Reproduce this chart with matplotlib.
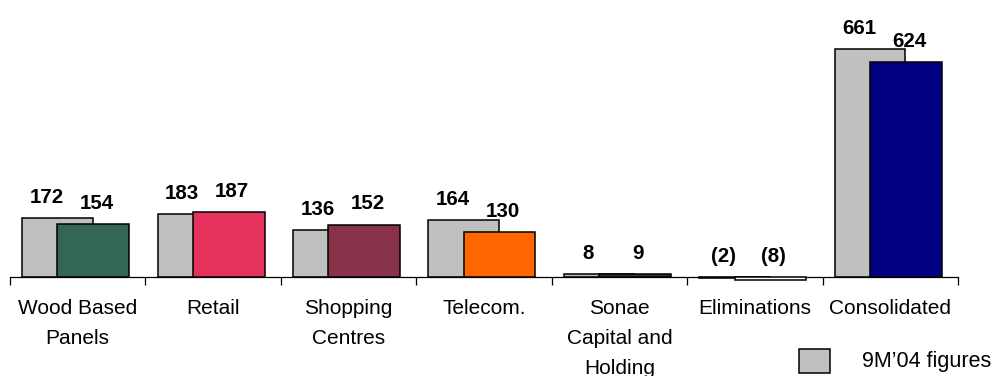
import numpy as np
import matplotlib
matplotlib.use('Agg')
import matplotlib.pyplot as plt
from matplotlib.patches import Rectangle

plt.rcParams['font.family'] = ['Liberation Sans', 'DejaVu Sans']

categories = ['Wood Based\nPanels', 'Retail', 'Shopping\nCentres', 'Telecom.',
              'Sonae\nCapital and\nHolding', 'Eliminations', 'Consolidated']
prev_values = [172, 183, 136, 164, 8, -2, 661]
curr_values = [154, 187, 152, 130, 9, -8, 624]
curr_colors = ['#336655', '#E6335D', '#883349', '#FF6600', '#333333', '#FFFFFF', '#000080']
legend_label = '9M\u201904 figures'

W, H = 994, 376
fig = plt.figure(figsize=(W/100, H/100), dpi=100, facecolor='white')
ax = fig.add_axes((10/W, (H-290)/H, 948/W, 280/H))

x = np.arange(len(categories))
ax.bar(x-0.15, prev_values, width=0.52, color='#C0C0C0', edgecolor='black', linewidth=1.1, zorder=2)
ax.bar(x+0.115, curr_values, width=0.53, color=curr_colors, edgecolor='black', linewidth=1.1, zorder=3)

def fmt(v):
  return '(%d)' % abs(v) if v < 0 else '%d' % v

for i in range(len(categories)):
  for xo, v in ((-0.23, prev_values[i]), (0.14, curr_values[i])):
    ax.annotate(fmt(v), (i+xo, max(v, 0)), xytext=(0, 8), textcoords='offset points',
                ha='center', va='bottom', fontsize=14.8, fontweight='bold')

ax.set_xlim(-0.5, len(categories)-0.5)
ax.set_ylim(-37.7, 774)
for s in ('left', 'right', 'top'):
  ax.spines[s].set_visible(False)
ax.spines['bottom'].set_position(('data', 0))
ax.spines['bottom'].set_linewidth(0.9)
ax.set_yticks([])
ax.set_xticks(x)
ax.set_xticklabels(categories, fontsize=15, linespacing=1.76, va='top')
ax.set_xticks(np.arange(-0.5, len(categories)), minor=True)
ax.tick_params(axis='x', which='major', length=0, pad=15.5)
ax.tick_params(axis='x', which='minor', length=6, width=0.9, direction='out')

fig.patches.append(Rectangle((799/W, (H-373)/H), 31/W, 24/H, transform=fig.transFigure,
                             facecolor='#C0C0C0', edgecolor='black', linewidth=1.1))
fig.text(862/W, (H-362)/H, legend_label, fontsize=15.5, va='center', ha='left')

fig.savefig('out.png')
